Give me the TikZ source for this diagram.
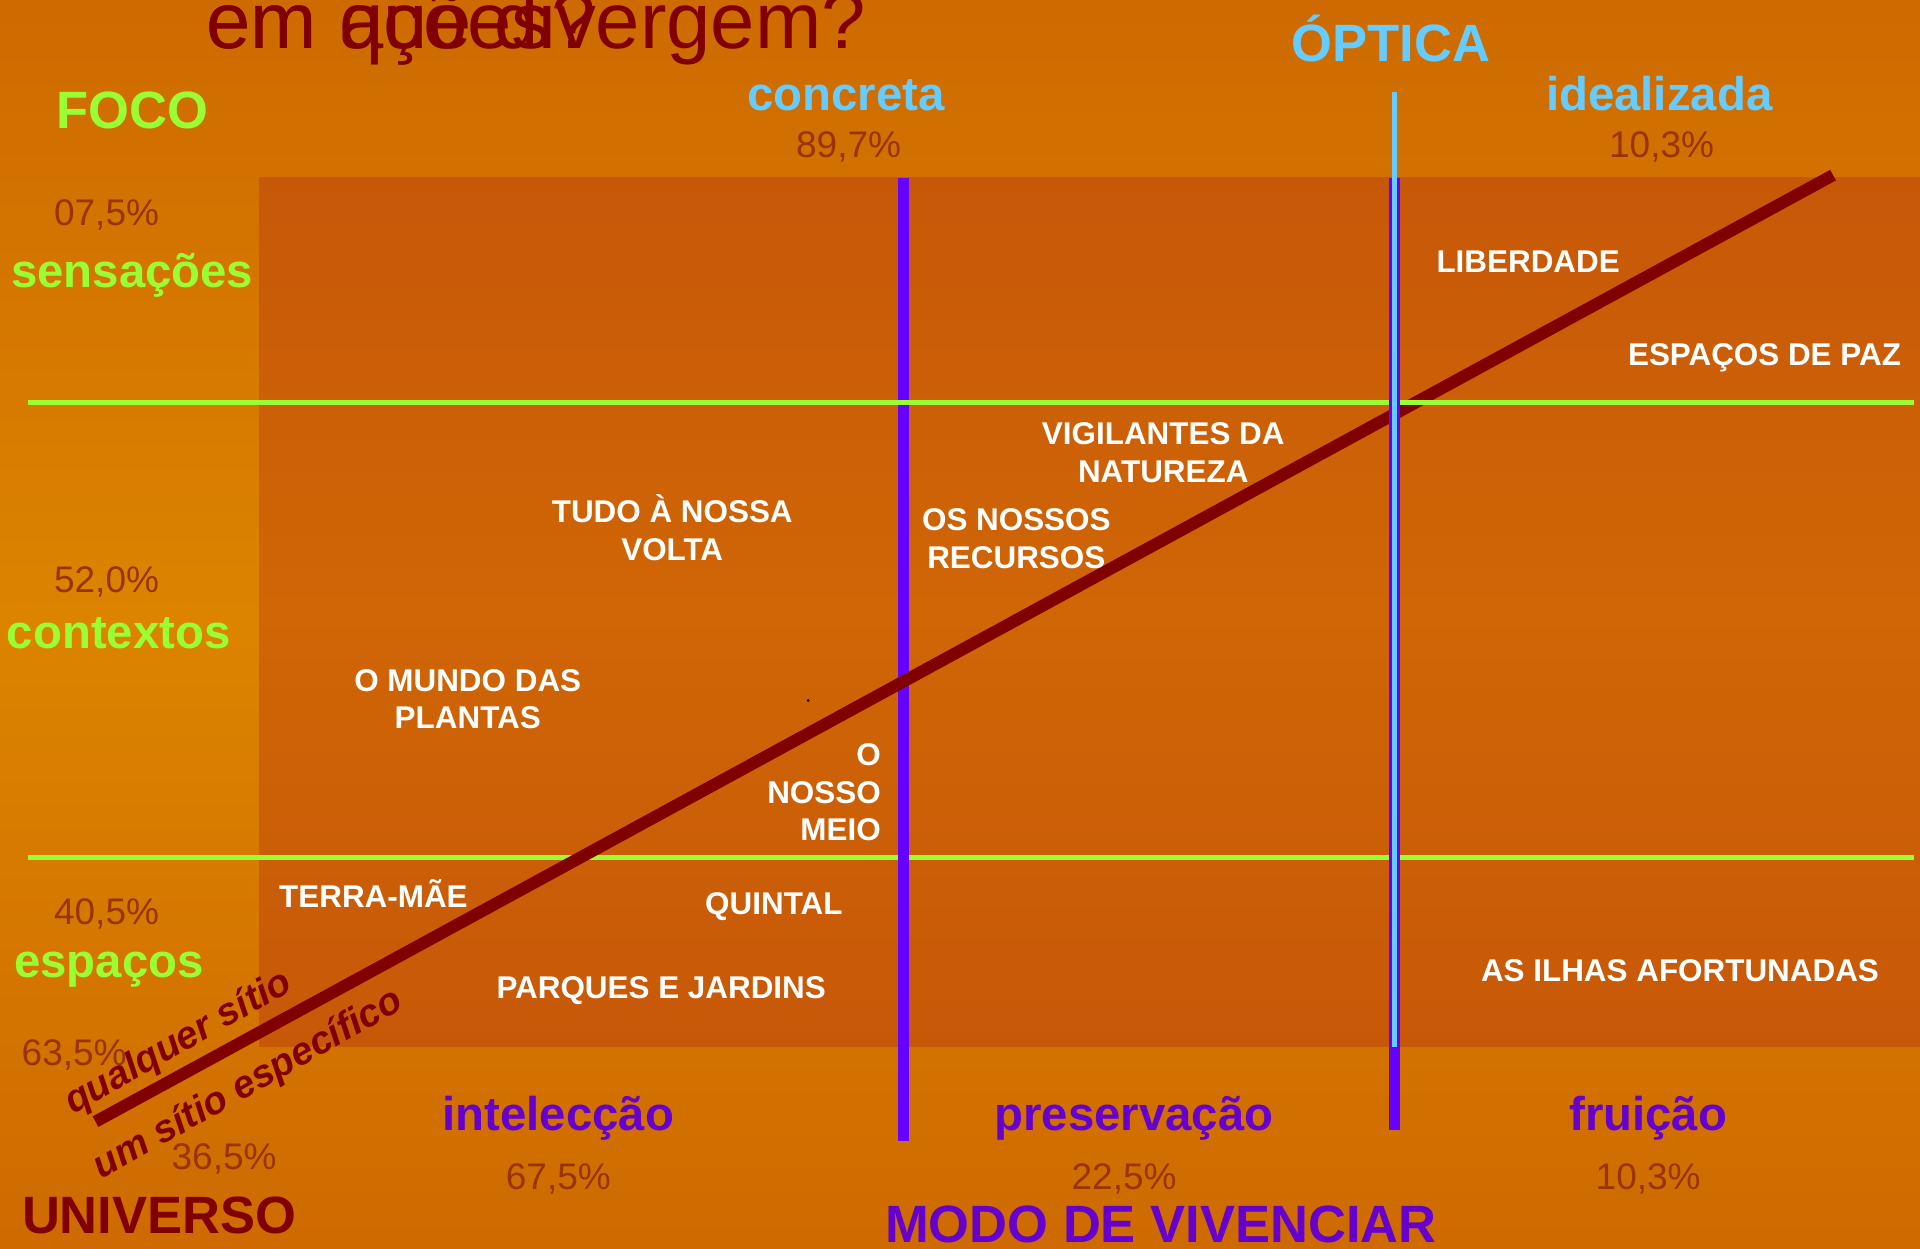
\documentclass[tikz,border=0pt]{standalone}
\usepackage{fontspec}
\setmainfont{Liberation Sans}
\usepackage{tikz}
\usetikzlibrary{positioning}
\usepackage{xcolor}
\definecolor{bgedge}{HTML}{CE6A00}
\definecolor{bgmid}{HTML}{DC8400}
\definecolor{paneledge}{HTML}{C75808}
\definecolor{panelmid}{HTML}{D06606}
\definecolor{focogreen}{HTML}{99FF33}
\definecolor{opticablue}{HTML}{66CCFF}
\definecolor{modopurple}{HTML}{6600CC}
\definecolor{linepurple}{HTML}{6600FF}
\definecolor{univred}{HTML}{800000}
\definecolor{pctbrown}{HTML}{993300}

\begin{document}
\begin{tikzpicture}[x=0.1mm,y=-0.1mm,
  head/.style={font=\fontsize{11}{13}\selectfont\bfseries,inner sep=0pt,anchor=base},
  bighead/.style={font=\fontsize{12.2}{14}\selectfont\bfseries,inner sep=0pt,anchor=base},
  pct/.style={font=\fontsize{8.6}{10}\selectfont,pctbrown,inner sep=0pt,anchor=base},
  cat/.style={font=\fontsize{7.3}{8.8}\selectfont\bfseries,white,align=center,inner sep=0pt},
  sitio/.style={font=\fontsize{9}{11}\selectfont\bfseries\itshape,univred,inner sep=0pt,rotate=29.5},
  titletext/.style={font=\fontsize{18.5}{20}\selectfont,univred,inner sep=0pt,anchor=base west}]
  \useasboundingbox (0,0) rectangle (1568,1020);
  \clip (0,0) rectangle (1568,1020);
  % Background and panel
  \shade[top color=bgedge,bottom color=bgedge,middle color=bgmid] (0,0) rectangle (1568,1020);
  \shade[top color=paneledge,bottom color=paneledge,middle color=panelmid] (212,145) rectangle (1568,855);
  % Title (two texts laid over each other)
  \node[titletext] (title) at (168,40) {em que divergem?};
  \node[titletext] (titleb) at (168,40) {em ações?};
  % Lines between the fields
  \coordinate (lowgreenA) at (23,700);
  \coordinate (lowgreenB) at (1563,700);
  \coordinate (upgreenA) at (23,329);
  \coordinate (upgreenB) at (1563,329);
  \coordinate (concA) at (738,145);
  \coordinate (concB) at (738,932);
  \coordinate (idealA) at (1139,145);
  \coordinate (idealB) at (1139,923);
  \coordinate (opticA) at (1139,75);
  \coordinate (opticB) at (1139,855);
  \coordinate (diagA) at (78,916);
  \coordinate (diagB) at (1497,143);
  \draw[focogreen,line width=1.2pt] (lowgreenA) -- (lowgreenB);
  \draw[linepurple,line width=2.5pt] (concA) -- (concB);
  \draw[univred,line width=2.8pt] (diagA) -- (diagB);
  \draw[focogreen,line width=1.2pt] (upgreenA) -- (upgreenB);
  \draw[linepurple,line width=2.5pt] (idealA) -- (idealB);
  \draw[opticablue,line width=1.1pt] (opticA) -- (opticB);
  \fill[black] (660,572) circle (1.3);
  % OPTICA
  \node[bighead,opticablue] (optica) at (1136,50) {ÓPTICA};
  \node[head,opticablue] (concreta) at (691,90) {concreta};
  \node[pct] (pconcreta) at (693,129) {89,7\%};
  \node[head,opticablue] (idealizada) at (1355,90) {idealizada};
  \node[pct] (pidealizada) at (1357,129) {10,3\%};
  % FOCO
  \node[bighead,focogreen] (foco) at (108,105) {FOCO};
  \node[pct] (psensacoes) at (87,184) {07,5\%};
  \node[head,focogreen] (sensacoes) at (108,235) {sensações};
  \node[pct] (pcontextos) at (87,484) {52,0\%};
  \node[head,focogreen] (contextos) at (97,530) {contextos};
  \node[pct] (pespacos) at (87,755) {40,5\%};
  \node[head,focogreen] (espacos) at (89,798) {espaços};
  % UNIVERSO
  \node[pct,anchor=base west] (pqualquer) at (17,870) {63,5\%};
  \node[pct] (pespecifico) at (183,955) {36,5\%};
  \node[bighead,univred] (universo) at (130,1007) {UNIVERSO};
  \node[sitio] (qualquer) at (146,852) {qualquer sítio};
  \node[sitio] (especifico) at (203,886) {um sítio específico};
  % MODO DE VIVENCIAR
  \node[head,modopurple] (inteleccao) at (456,923) {intelecção};
  \node[pct] (pinteleccao) at (456,971) {67,5\%};
  \node[head,modopurple] (preservacao) at (926,923) {preservação};
  \node[pct] (ppreservacao) at (918,971) {22,5\%};
  \node[head,modopurple] (fruicao) at (1346,923) {fruição};
  \node[pct] (pfruicao) at (1346,971) {10,3\%};
  \node[bighead,modopurple] (modo) at (948,1015) {MODO DE VIVENCIAR};
  % Categories
  \node[cat] (liberdade) at (1248,214) {LIBERDADE};
  \node[cat] (paz) at (1441,292) {ESPAÇOS DE PAZ};
  \node[cat] (vigilantes) at (950,370) {VIGILANTES DA\\NATUREZA};
  \node[cat] (tudo) at (549,431) {TUDO À NOSSA\\VOLTA};
  \node[cat] (recursos) at (830,440) {OS NOSSOS\\RECURSOS};
  \node[cat] (plantas) at (382,571) {O MUNDO DAS\\PLANTAS};
  \node[cat,align=right,anchor=east] (meio) at (720,647) {O\\NOSSO\\MEIO};
  \node[cat] (terra) at (305,730) {TERRA-MÃE};
  \node[cat] (quintal) at (632,740) {QUINTAL};
  \node[cat] (parques) at (540,809) {PARQUES E JARDINS};
  \node[cat] (ilhas) at (1372,793) {AS ILHAS AFORTUNADAS};
\end{tikzpicture}
\end{document}
